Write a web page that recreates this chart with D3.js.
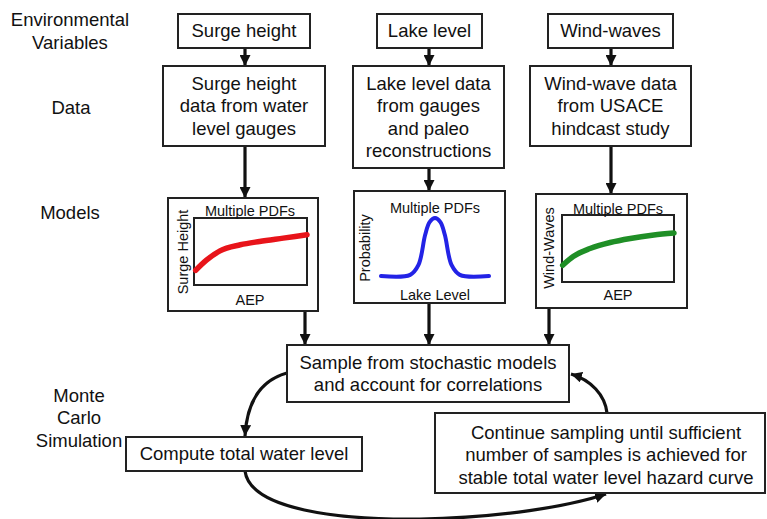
<!DOCTYPE html>
<html><head><meta charset="utf-8">
<script src="https://cdn.jsdelivr.net/npm/d3@7"></script>
<style>body{margin:0;background:#fff}text{font-family:Arial,"Liberation Sans",sans-serif;fill:#111}</style>
</head><body><svg id="c" width="767" height="519"></svg>
<script>
// ---- data ----
const rowLabels = [["Environmental","Variables"],["Data"],["Models"],["Monte","Carlo","Simulation"]];
const envVariables = ["Surge height","Lake level","Wind-waves"];
const dataSources = [
  ["Surge height","data from water","level gauges"],
  ["Lake level data","from gauges","and paleo","reconstructions"],
  ["Wind-wave data","from USACE","hindcast study"]
];
const modelTitles = ["Multiple PDFs","Multiple PDFs","Multiple PDFs"];
const modelYLabels = ["Surge Height","Probability","Wind-Waves"];
const modelXLabels = ["AEP","Lake Level","AEP"];
const surgeCurveX = [0.015,0.11,0.23,0.41,0.58,0.79,1.0];
const surgeCurveY = [0.22,0.37,0.51,0.60,0.65,0.70,0.75];
const lakeCurveX = [0,0.27,0.347,0.409,0.45,0.5,0.55,0.591,0.653,0.73,1.0];
const lakeCurveY = [0,0.02,0.19,0.71,0.93,1,0.93,0.71,0.19,0.02,0];
const waveCurveX = [0.006,0.10,0.25,0.43,0.61,0.82,1.0];
const waveCurveY = [0.25,0.38,0.50,0.59,0.65,0.70,0.73];
const sampleText = ["Sample from stochastic models","and account for correlations"];
const computeText = ["Compute total water level"];
const continueText = ["Continue sampling until sufficient","number of samples is achieved for","stable total water level hazard curve"];

// ---- drawing ----
const svg = d3.select("#c");
svg.append("rect").attr("width",767).attr("height",519).attr("fill","#fff");
const defs = svg.append("defs");
defs.append("marker").attr("id","ah").attr("markerUnits","userSpaceOnUse")
  .attr("viewBox","0 0 10 10").attr("refX",10).attr("refY",5)
  .attr("markerWidth",11).attr("markerHeight",11).attr("orient","auto")
  .append("path").attr("d","M0,0 L10,5 L0,10 z").attr("fill","#111");

const FS = 18.5, LH = 22.5;
function box(x0,y0,x1,y1){
  svg.append("rect").attr("x",x0).attr("y",y0).attr("width",x1-x0).attr("height",y1-y0)
    .attr("fill","#fff").attr("stroke","#222").attr("stroke-width",2);
}
function lines(arr,cx,cy,fs,lh){
  const n = arr.length;
  arr.forEach((t,i)=>{
    svg.append("text").attr("x",cx).attr("y",cy+(i-(n-1)/2)*lh).attr("dy","0.35em")
      .attr("text-anchor","middle").attr("font-size",fs).text(t);
  });
}
function arrow(d){
  svg.append("path").attr("d",d).attr("fill","none").attr("stroke","#111")
    .attr("stroke-width",3.2).attr("marker-end","url(#ah)");
}

// Row labels
lines(rowLabels[0],70,31,FS,LH);
lines(rowLabels[1],71,108,FS,LH);
lines(rowLabels[2],70,213,FS,LH);
lines(rowLabels[3],79,418,FS,LH);

// Columns
const colX = [245,429,611];
const envBoxes = [[178,14,310,48],[377,14,482,48],[548,14,673,48]];
const dataBoxes = [[163,66,325,146],[353,66,504,168],[530,66,691,146]];
const modelBoxes = [[168,198,318,311],[354,191,505,303],[536,194,687,308]];

colX.forEach((x,i)=>{
  arrow(`M${x},${envBoxes[i][3]} L${x},${dataBoxes[i][1]}`);
  arrow(`M${x},${dataBoxes[i][3]} L${x},${modelBoxes[i][1]}`);
});
const toSampleX = [305,429,549];
toSampleX.forEach((x,i)=>arrow(`M${x},${modelBoxes[i][3]} L${x},345`));

envBoxes.forEach((b,i)=>{ box(...b); lines([envVariables[i]],(b[0]+b[2])/2,(b[1]+b[3])/2,FS,LH); });
dataBoxes.forEach((b,i)=>{ box(...b); lines(dataSources[i],(b[0]+b[2])/2,(b[1]+b[3])/2,FS,LH); });
modelBoxes.forEach(b=>box(...b));

// mini plots
const miniFS = 14.5;
function miniText(t,x,y,rot){
  const el = svg.append("text").attr("font-size",miniFS).attr("text-anchor","middle").attr("dy","0.35em").text(t);
  if(rot) el.attr("transform",`translate(${x},${y}) rotate(-90)`);
  else el.attr("x",x).attr("y",y);
}
const plots = [
  {inner:[194,218,307,285], xs:surgeCurveX, ys:surgeCurveY, color:"#e8141a", w:5.5, frame:true, curve:d3.curveMonotoneX,
   title:[250,211], ylab:[183,252], xlab:[250,300]},
  {inner:[381,218,489,276], xs:lakeCurveX, ys:lakeCurveY, color:"#2323e6", w:4, frame:false, curve:d3.curveCatmullRom.alpha(0.5),
   title:[435,208], ylab:[365,248], xlab:[435,295]},
  {inner:[562,215,674,282], xs:waveCurveX, ys:waveCurveY, color:"#1f8f26", w:5.5, frame:true, curve:d3.curveMonotoneX,
   title:[618,209], ylab:[549,248], xlab:[618,295]}
];
plots.forEach((p,i)=>{
  const [x0,y0,x1,y1] = p.inner;
  const sx = d3.scaleLinear().domain([0,1]).range([x0,x1]);
  const sy = d3.scaleLinear().domain([0,1]).range([y1,y0]);
  if(p.frame){
    svg.append("rect").attr("x",x0).attr("y",y0).attr("width",x1-x0).attr("height",y1-y0)
      .attr("fill","#fff").attr("stroke","#222").attr("stroke-width",2);
  }
  const pts = p.xs.map((x,j)=>[x,p.ys[j]]);
  svg.append("path").datum(pts)
    .attr("d",d3.line().x(d=>sx(d[0])).y(d=>sy(d[1])).curve(p.curve))
    .attr("fill","none").attr("stroke",p.color).attr("stroke-width",p.w).attr("stroke-linecap","round");
  miniText(modelTitles[i],p.title[0],p.title[1],false);
  miniText(modelYLabels[i],p.ylab[0],p.ylab[1],true);
  miniText(modelXLabels[i],p.xlab[0],p.xlab[1],false);
});

// Monte Carlo loop
arrow("M287,373 C262,380 247,400 245,436");
arrow("M245,471 C250,510 340,520 420,519 C500,518 570,506 606,494");
arrow("M607,413 C605,395 591,380 571,374");

box(287,345,569,402); lines(sampleText,428,373.5,FS,LH);
box(126,437,362,471); lines(computeText,244,454,FS,LH);
box(435,413,765,493); lines(continueText,606,455,FS,LH);
</script></body></html>
